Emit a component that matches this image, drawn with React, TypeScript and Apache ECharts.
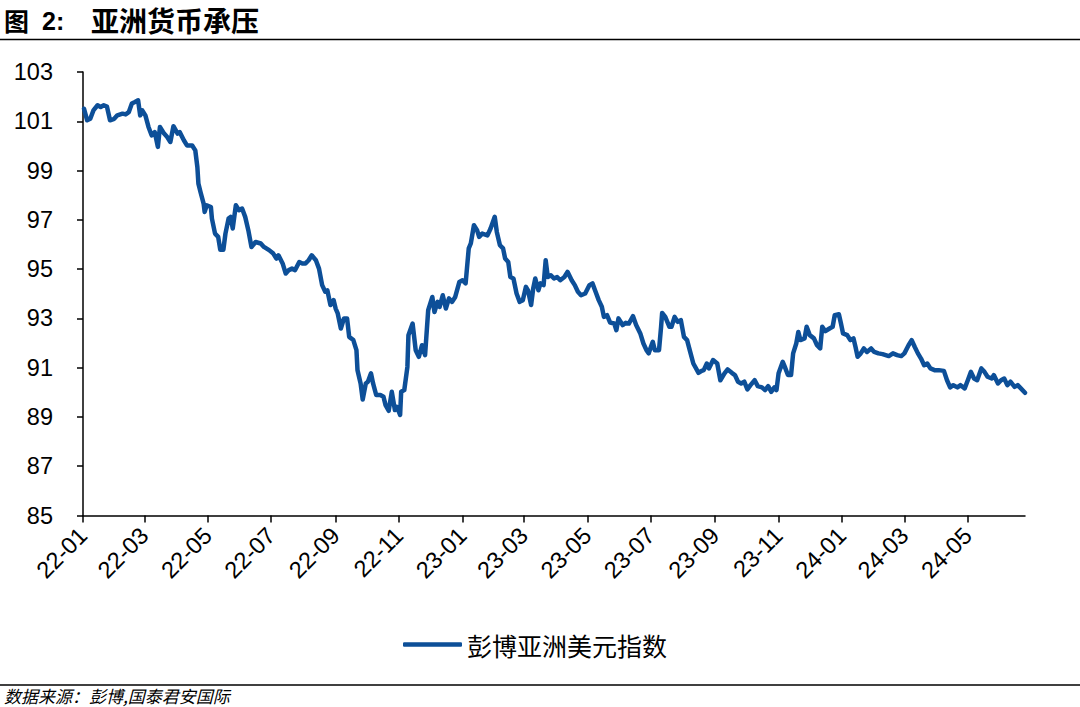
import React, { useEffect, useRef } from "react";
import * as echarts from "echarts";

// Days since 2022-01-01 at which each reading was taken
const DAYS: number[] = [
  1, 4, 7, 10, 14, 17, 20, 23, 26, 30, 33, 38, 41, 44, 47, 50, 53, 55, 57, 60,
  63, 66, 69, 72, 74, 78, 81, 84, 87, 91, 93, 97, 100, 105, 108, 110, 111, 113, 116, 117,
  119, 123, 124, 127, 130, 132, 135, 137, 140, 142, 144, 147, 150, 153, 156, 159, 162, 166, 171, 174,
  179, 183, 186, 188, 192, 195, 198, 201, 204, 208, 211, 214, 217, 220, 224, 227, 230, 233, 235, 238,
  241, 243, 245, 248, 251, 254, 256, 260, 263, 264, 267, 269, 272, 274, 277, 279, 282, 286, 289, 291,
  294, 297, 300, 302, 305, 306, 309, 312, 313, 317, 320, 323, 326, 329, 332, 336, 338, 341, 343, 346,
  349, 352, 355, 358, 362, 365, 368, 371, 373, 376, 379, 381, 384, 389, 392, 396, 398, 401, 404, 406,
  409, 411, 414, 417, 420, 423, 426, 428, 431, 433, 435, 438, 440, 443, 445, 447, 450, 453, 456, 459,
  463, 466, 470, 473, 476, 479, 483, 487, 490, 493, 496, 499, 501, 504, 507, 511, 513, 515, 519, 522,
  525, 529, 532, 536, 539, 542, 544, 548, 550, 554, 556, 557, 560, 564, 566, 569, 572, 575, 578, 581,
  584, 587, 592, 595, 597, 600, 602, 606, 610, 613, 617, 620, 624, 627, 630, 633, 636, 639, 642, 646,
  649, 653, 656, 659, 662, 665, 667, 669, 673, 675, 678, 681, 683, 686, 688, 690, 694, 696, 699, 703,
  706, 709, 711, 714, 718, 721, 723, 727, 729, 731, 735, 738, 741, 743, 745, 748, 751, 754, 758, 761,
  765, 769, 772, 775, 779, 783, 787, 790, 794, 797, 800, 803, 806, 809, 812, 815, 819, 823, 828, 831,
  834, 837, 841, 844, 848, 851, 854, 857, 860, 864, 867, 870, 874, 876, 880, 883, 886, 889, 892, 896,
  899, 902, 906,
];

// Bloomberg Asia Dollar Index readings
const VALUES: number[] = [
  101.51, 101.04, 101.1, 101.44, 101.65, 101.58, 101.65, 101.6, 101.04, 101.1, 101.24, 101.31, 101.28, 101.37, 101.72, 101.78, 101.85, 101.24, 101.44, 101.24,
  100.77, 100.43, 100.56, 99.96, 100.77, 100.5, 100.36, 100.16, 100.8, 100.5, 100.56, 100.23, 100.02, 100.02, 99.82, 99.14, 98.47, 98.13, 97.66, 97.32,
  97.59, 97.52, 97.05, 96.44, 96.31, 95.79, 95.79, 96.44, 97.05, 97.12, 96.65, 97.59, 97.39, 97.46, 97.12, 96.58, 95.9, 96.1, 96.04, 95.9,
  95.77, 95.63, 95.43, 95.56, 95.23, 94.82, 94.96, 95.02, 94.96, 95.29, 95.23, 95.23, 95.36, 95.56, 95.36, 95.02, 94.35, 94.08, 94.14, 93.54,
  93.74, 93.4, 93.2, 92.59, 93.0, 93.0, 92.25, 92.12, 91.71, 90.9, 90.36, 89.71, 90.36, 90.43, 90.77, 90.36, 89.89, 89.89, 89.82, 89.48,
  89.25, 90.02, 89.28, 89.41, 89.08, 90.02, 90.09, 91.03, 92.32, 92.79, 91.71, 91.44, 91.91, 91.51, 93.33, 93.87, 93.26, 93.67, 93.47, 93.94,
  93.4, 93.81, 93.67, 93.87, 94.48, 94.55, 94.42, 95.84, 96.04, 96.78, 96.58, 96.31, 96.44, 96.37, 96.65, 97.12, 96.51, 95.97, 95.84, 95.43,
  95.29, 94.68, 94.62, 94.01, 93.67, 93.74, 94.28, 94.14, 93.54, 94.21, 94.62, 94.14, 94.42, 94.35, 95.36, 94.68, 94.75, 94.62, 94.68, 94.55,
  94.68, 94.89, 94.55, 94.35, 94.08, 93.94, 94.01, 94.35, 94.42, 94.08, 93.74, 93.47, 93.06, 93.13, 92.83, 92.79, 92.52, 93.0, 92.73, 92.82,
  92.79, 93.09, 92.73, 92.39, 91.98, 91.71, 91.58, 92.05, 91.71, 91.71, 92.66, 93.22, 93.06, 92.66, 92.66, 93.06, 92.86, 92.93, 92.25, 92.12,
  91.64, 91.17, 90.79, 90.87, 90.9, 91.17, 90.97, 91.31, 91.17, 90.49, 90.77, 90.93, 90.79, 90.7, 90.43, 90.36, 90.43, 90.12, 90.29, 90.49,
  90.25, 90.2, 90.09, 90.25, 90.02, 90.2, 90.09, 90.77, 91.24, 91.03, 90.7, 90.7, 91.58, 91.98, 92.45, 92.12, 92.19, 92.66, 92.32, 92.19,
  91.91, 91.78, 92.66, 92.48, 92.59, 92.66, 93.13, 93.17, 92.79, 92.39, 92.32, 92.12, 92.19, 91.84, 91.44, 91.58, 91.78, 91.64, 91.78, 91.64,
  91.58, 91.55, 91.51, 91.47, 91.58, 91.51, 91.47, 91.58, 91.91, 92.12, 91.84, 91.58, 91.37, 91.1, 91.17, 90.97, 90.9, 90.9, 90.87, 90.49,
  90.2, 90.29, 90.2, 90.29, 90.16, 90.49, 90.83, 90.56, 90.49, 90.97, 90.83, 90.63, 90.56, 90.7, 90.36, 90.49, 90.56, 90.29, 90.43, 90.22,
  90.29, 90.16, 89.98,
];

const TICK_LABELS: string[] = [
  "22-01", "22-03", "22-05", "22-07", "22-09", "22-11",
  "23-01", "23-03", "23-05", "23-07", "23-09", "23-11",
  "24-01", "24-03", "24-05",
];

const Y_MIN = 85;
const Y_MAX = 103;
const Y_STEP = 2;

const SERIES_NAME = "彭博亚洲美元指数";
const TITLE_TEXT = "亚洲货币承压";
const SOURCE_TEXT = "数据来源：彭博,国泰君安国际";

const START_MS = Date.UTC(2022, 0, 1);
const END_MS = Date.UTC(2024, 5, 25);

function buildCategories(): string[] {
  const out: string[] = [];
  for (let t = START_MS; t <= END_MS; t += 86400000) {
    out.push(new Date(t).toISOString().slice(0, 10));
  }
  return out;
}

const CATEGORIES = buildCategories();

function shortLabel(iso: string): string {
  return iso.slice(2, 7);
}

function isTickDay(iso: string): boolean {
  return iso.slice(8, 10) === "01" && TICK_LABELS.includes(shortLabel(iso));
}

export default function App() {
  const ref = useRef<HTMLDivElement>(null);

  useEffect(() => {
    if (!ref.current) return;
    const chart = echarts.init(ref.current, undefined, { renderer: "svg" });
    const sans = "Liberation Sans, Arial, sans-serif";
    const cjk = "Noto Sans CJK SC, sans-serif";
    const blue = "#0D4F98";

    const option: any = {
      animation: false,
      backgroundColor: "#ffffff",
      grid: { left: 83, right: 55, top: 72, bottom: 191.5, containLabel: false },
      xAxis: {
        type: "category",
        data: CATEGORIES,
        boundaryGap: false,
        axisLine: { lineStyle: { color: "#000", width: 1.5 } },
        axisTick: {
          show: true,
          length: 7,
          interval: (i: number, v: string) => isTickDay(v),
          lineStyle: { color: "#000", width: 1.5 },
        },
        axisLabel: {
          interval: (i: number, v: string) => isTickDay(v),
          formatter: (v: string) => shortLabel(v),
          rotate: 45,
          margin: 16,
          color: "#000",
          fontSize: 23.5,
          fontFamily: sans,
        },
        splitLine: { show: false },
      },
      yAxis: {
        type: "value",
        min: Y_MIN,
        max: Y_MAX,
        interval: Y_STEP,
        axisLine: { show: true, lineStyle: { color: "#000", width: 1.5 } },
        axisTick: { show: true, length: 6, lineStyle: { color: "#000", width: 1.5 } },
        axisLabel: { color: "#000", fontSize: 23.5, fontFamily: sans, margin: 30 },
        splitLine: { show: false },
      },
      legend: {
        show: true,
        data: [{ name: SERIES_NAME, icon: "roundRect" }],
        left: 403,
        top: 632,
        padding: 0,
        itemWidth: 59,
        itemHeight: 4.5,
        itemGap: 8,
        textStyle: { color: "#000", fontSize: 25, fontFamily: cjk },
      },
      series: [
        {
          name: SERIES_NAME,
          type: "line",
          data: DAYS.map((d, i) => [d, VALUES[i]]),
          showSymbol: false,
          symbol: "none",
          connectNulls: true,
          lineStyle: { color: blue, width: 4.5, join: "round", cap: "round" },
          itemStyle: { color: blue },
        },
      ],
      graphic: [
        {
          type: "text",
          style: { x: 4, y: 20, text: "图", verticalAlign: "middle", fontSize: 25, fontWeight: "bold", fontFamily: cjk, fill: "#000" },
        },
        {
          type: "text",
          style: { x: 42, y: 21, text: "2:", verticalAlign: "middle", fontSize: 25, fontWeight: "bold", fontFamily: sans, fill: "#000" },
        },
        {
          type: "text",
          style: { x: 91, y: 20, text: TITLE_TEXT, verticalAlign: "middle", fontSize: 28, fontWeight: "bold", fontFamily: cjk, fill: "#000" },
        },
        {
          type: "line",
          shape: { x1: 0, y1: 39.5, x2: 1080, y2: 39.5 },
          style: { stroke: "#000", lineWidth: 1.5 },
        },
        {
          type: "line",
          shape: { x1: 0, y1: 685, x2: 1080, y2: 685 },
          style: { stroke: "#000", lineWidth: 1.5 },
        },
        {
          type: "text",
          style: { x: 4, y: 695, text: SOURCE_TEXT, verticalAlign: "middle", fontSize: 17, fontStyle: "italic", fontFamily: cjk, fill: "#000" },
        },
      ],
    };
    chart.setOption(option);
    return () => chart.dispose();
  }, []);

  return (
    <div
      ref={ref}
      style={{ position: "absolute", left: 0, top: 0, width: 1080, height: 707, background: "#fff" }}
    />
  );
}
